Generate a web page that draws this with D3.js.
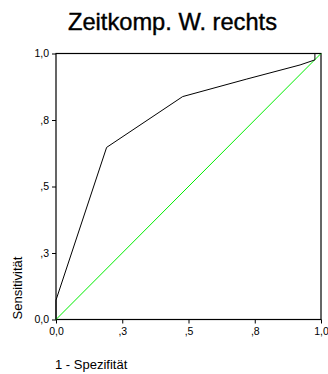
<!DOCTYPE html>
<html>
<head>
<meta charset="utf-8">
<script src="https://cdn.jsdelivr.net/npm/d3@7"></script>
<style>
  html, body { margin: 0; padding: 0; background: #fff; }
  svg { display: block; }
</style>
</head>
<body>
<script>
// ROC curve: 1 - specificity (x) against sensitivity (y)
const rocFpr = [0, 0, 0.191, 0.478, 0.72, 0.921, 0.977, 0.977, 1];
const rocTpr = [0, 0.073, 0.647, 0.838, 0.904, 0.957, 0.976, 1, 1];
// reference diagonal
const diagFpr = [0, 1];
const diagTpr = [0, 1];
// tick values and their printed labels
const tickValues = [0, 0.25, 0.5, 0.75, 1];
const tickLabels = ["0,0", ",3", ",5", ",8", "1,0"];

const W = 328, H = 374;
const margin = { left: 56, right: 7, top: 53.5, bottom: 54.5 };

const svg = d3.select("body").append("svg").attr("width", W).attr("height", H);

const x = d3.scaleLinear().domain([0, 1]).range([margin.left, W - margin.right]);
const y = d3.scaleLinear().domain([0, 1]).range([H - margin.bottom, margin.top]);

// title, set in a condensed face
svg.append("text")
  .attr("x", 68).attr("y", 29.5)
  .attr("textLength", 209)
  .attr("lengthAdjust", "spacingAndGlyphs")
  .attr("font-family", "'Liberation Sans Narrow', 'Liberation Sans', Arial, sans-serif")
  .attr("font-size", 24.5)
  .attr("fill", "#000")
  .attr("stroke", "#000")
  .attr("stroke-width", 0.4)
  .text("Zeitkomp. W. rechts");

const tickFmt = (d) => tickLabels[tickValues.indexOf(d)];

// x axis
const gx = svg.append("g")
  .attr("transform", `translate(0,${y(0)})`)
  .call(d3.axisBottom(x).tickValues(tickValues).tickFormat(tickFmt).tickSize(4).tickPadding(4));
// y axis
const gy = svg.append("g")
  .attr("transform", `translate(${x(0)},0)`)
  .call(d3.axisLeft(y).tickValues(tickValues).tickFormat(tickFmt).tickSize(4).tickPadding(3));

[gx, gy].forEach(g => {
  g.select(".domain").remove();
  g.selectAll(".tick line").attr("stroke", "#000");
  g.selectAll(".tick text")
    .attr("font-family", "'Liberation Sans', Arial, sans-serif")
    .attr("font-size", 10.5)
    .attr("fill", "#000");
});

// plot frame
svg.append("rect")
  .attr("x", x(0)).attr("y", y(1))
  .attr("width", x(1) - x(0)).attr("height", y(0) - y(1))
  .attr("fill", "none").attr("stroke", "#000").attr("stroke-width", 1.2);

// diagonal reference line
svg.append("path")
  .datum(diagFpr.map((v, i) => [v, diagTpr[i]]))
  .attr("d", d3.line().x(d => x(d[0])).y(d => y(d[1])))
  .attr("fill", "none").attr("stroke", "#00ee00").attr("stroke-width", 1);

// ROC curve
svg.append("path")
  .datum(rocFpr.map((v, i) => [v, rocTpr[i]]))
  .attr("d", d3.line().x(d => x(d[0])).y(d => y(d[1])))
  .attr("fill", "none").attr("stroke", "#000").attr("stroke-width", 1);

// axis titles
svg.append("text")
  .attr("transform", `translate(21.5,${y(0)}) rotate(-90)`)
  .attr("text-anchor", "start")
  .attr("font-family", "'Liberation Sans', Arial, sans-serif")
  .attr("font-size", 13)
  .attr("fill", "#000")
  .text("Sensitivität");

svg.append("text")
  .attr("x", 55).attr("y", 368.5)
  .attr("font-family", "'Liberation Sans', Arial, sans-serif")
  .attr("font-size", 13)
  .attr("fill", "#000")
  .text("1 - Spezifität");
</script>
</body>
</html>
